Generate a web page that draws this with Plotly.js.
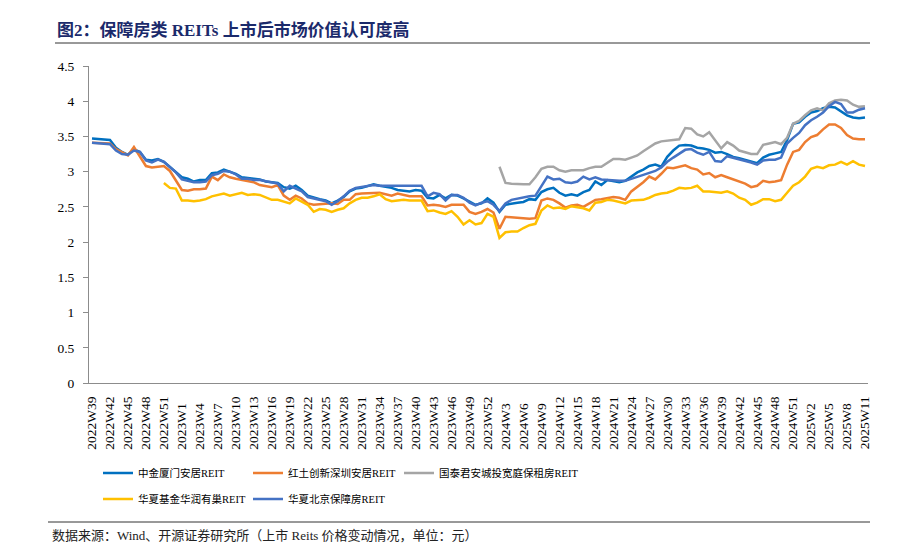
<!DOCTYPE html>
<html>
<head>
<meta charset="utf-8">
<script src="https://cdn.plot.ly/plotly-3.0.1.min.js"></script>
<style>html,body{margin:0;padding:0;background:#fff;}#chart{width:900px;height:555px;}</style>
</head>
<body>
<div id="chart"></div>
<script>
// Weekly categories (x axis)
const weeks = [
"2022W39","2022W40","2022W41","2022W42","2022W43","2022W44","2022W45","2022W46","2022W47","2022W48","2022W49","2022W50","2022W51","2022W52","2022W53",
"2023W1","2023W2","2023W3","2023W4","2023W5","2023W6","2023W7","2023W8","2023W9","2023W10","2023W11","2023W12","2023W13","2023W14","2023W15","2023W16","2023W17","2023W18","2023W19","2023W20","2023W21","2023W22","2023W23","2023W24","2023W25","2023W26","2023W27","2023W28","2023W29","2023W30","2023W31","2023W32","2023W33","2023W34","2023W35","2023W36","2023W37","2023W38","2023W39","2023W40","2023W41","2023W42","2023W43","2023W44","2023W45","2023W46","2023W47","2023W48","2023W49","2023W50","2023W51","2023W52",
"2024W1","2024W2","2024W3","2024W4","2024W5","2024W6","2024W7","2024W8","2024W9","2024W10","2024W11","2024W12","2024W13","2024W14","2024W15","2024W16","2024W17","2024W18","2024W19","2024W20","2024W21","2024W22","2024W23","2024W24","2024W25","2024W26","2024W27","2024W28","2024W29","2024W30","2024W31","2024W32","2024W33","2024W34","2024W35","2024W36","2024W37","2024W38","2024W39","2024W40","2024W41","2024W42","2024W43","2024W44","2024W45","2024W46","2024W47","2024W48","2024W49","2024W50","2024W51","2024W52",
"2025W1","2025W2","2025W3","2025W4","2025W5","2025W6","2025W7","2025W8","2025W9","2025W10","2025W11"
];

// Tick labels shown on the x axis
const tickLabels = [
"2022W39","2022W42","2022W45","2022W48","2022W51",
"2023W1","2023W4","2023W7","2023W10","2023W13","2023W16","2023W19","2023W22","2023W25","2023W28","2023W31","2023W34","2023W37","2023W40","2023W43","2023W46","2023W49","2023W52",
"2024W3","2024W6","2024W9","2024W12","2024W15","2024W18","2024W21","2024W24","2024W27","2024W30","2024W33","2024W36","2024W39","2024W42","2024W45","2024W48","2024W51",
"2025W2","2025W5","2025W8","2025W11"
];

const seriesNames = ["中金厦门安居REIT","红土创新深圳安居REIT","国泰君安城投宽庭保租房REIT","华夏基金华润有巢REIT","华夏北京保障房REIT"];

// 中金厦门安居REIT
const zjXiamen = [
3.47,3.46,3.46,3.45,3.34,3.28,3.24,3.32,3.28,3.17,
3.16,3.18,3.14,3.07,3.00,2.92,2.90,2.86,2.88,2.88,
2.98,2.99,3.03,3.00,2.97,2.92,2.91,2.89,2.89,2.86,
2.85,2.84,2.78,2.76,2.80,2.74,2.66,2.63,2.61,2.59,
2.55,2.59,2.64,2.72,2.76,2.77,2.80,2.82,2.80,2.79,
2.77,2.74,2.73,2.72,2.74,2.73,2.63,2.62,2.67,2.62,
2.67,2.66,2.62,2.57,2.53,2.55,2.62,2.56,2.43,2.53,
2.55,2.56,2.57,2.61,2.60,2.71,2.75,2.77,2.70,2.66,
2.68,2.66,2.71,2.74,2.86,2.81,2.88,2.87,2.85,2.87,
2.93,2.99,3.03,3.08,3.10,3.07,3.21,3.30,3.37,3.38,
3.37,3.34,3.33,3.31,3.27,3.28,3.25,3.21,3.19,3.17,
3.15,3.12,3.20,3.24,3.26,3.28,3.45,3.68,3.70,3.78,
3.84,3.86,3.90,3.92,3.91,3.85,3.80,3.77,3.76,3.77
];

// 红土创新深圳安居REIT
const htShenzhen = [
3.41,3.41,3.40,3.40,3.32,3.27,3.23,3.35,3.21,3.08,
3.06,3.07,3.08,3.01,2.88,2.74,2.73,2.75,2.75,2.76,
2.93,2.88,2.96,2.92,2.90,2.88,2.87,2.85,2.81,2.80,
2.78,2.81,2.66,2.60,2.66,2.62,2.55,2.53,2.54,2.54,
2.55,2.54,2.60,2.60,2.68,2.69,2.69,2.70,2.70,2.68,
2.66,2.69,2.67,2.65,2.65,2.65,2.52,2.53,2.52,2.50,
2.53,2.53,2.53,2.43,2.40,2.43,2.47,2.42,2.19,2.36,
2.35,2.34,2.33,2.33,2.34,2.59,2.62,2.60,2.55,2.49,
2.52,2.53,2.50,2.55,2.60,2.61,2.63,2.64,2.63,2.60,
2.72,2.78,2.85,2.93,2.89,2.97,3.06,3.05,3.07,3.09,
3.05,3.03,2.96,2.98,2.92,2.95,2.92,2.89,2.86,2.83,
2.78,2.80,2.87,2.85,2.86,2.88,3.10,3.28,3.31,3.42,
3.49,3.52,3.60,3.67,3.67,3.62,3.52,3.47,3.46,3.46
];

// 国泰君安城投宽庭保租房REIT
const gtjaKuanting = [
null,null,null,null,null,null,null,null,null,null,
null,null,null,null,null,null,null,null,null,null,
null,null,null,null,null,null,null,null,null,null,
null,null,null,null,null,null,null,null,null,null,
null,null,null,null,null,null,null,null,null,null,
null,null,null,null,null,null,null,null,null,null,
null,null,null,null,null,null,null,null,3.07,2.84,
2.83,2.82,2.82,2.82,2.92,3.04,3.07,3.07,3.02,3.00,
3.02,3.02,3.02,3.05,3.07,3.07,3.13,3.18,3.18,3.17,
3.20,3.23,3.29,3.34,3.40,3.43,3.44,3.45,3.46,3.62,
3.61,3.53,3.50,3.56,3.45,3.33,3.42,3.37,3.30,3.27,
3.25,3.25,3.38,3.40,3.42,3.39,3.48,3.68,3.72,3.80,
3.87,3.90,3.87,3.97,4.01,4.02,4.01,3.95,3.92,3.93
];

// 华夏基金华润有巢REIT
const hxYouchao = [
null,null,null,null,null,null,null,null,null,null,
null,null,2.84,2.77,2.76,2.59,2.59,2.58,2.59,2.61,
2.65,2.67,2.69,2.66,2.68,2.70,2.67,2.68,2.67,2.63,
2.60,2.60,2.57,2.55,2.62,2.58,2.53,2.43,2.47,2.46,
2.43,2.46,2.48,2.55,2.60,2.63,2.63,2.65,2.68,2.61,
2.58,2.59,2.60,2.59,2.59,2.59,2.44,2.45,2.42,2.40,
2.44,2.36,2.25,2.31,2.25,2.27,2.40,2.36,2.06,2.14,
2.15,2.15,2.20,2.24,2.26,2.45,2.52,2.48,2.49,2.47,
2.51,2.50,2.48,2.45,2.56,2.57,2.60,2.59,2.57,2.55,
2.59,2.59,2.60,2.63,2.67,2.69,2.70,2.73,2.77,2.76,
2.77,2.80,2.72,2.72,2.71,2.70,2.72,2.69,2.63,2.60,
2.53,2.56,2.61,2.61,2.58,2.60,2.70,2.80,2.85,2.93,
3.04,3.07,3.05,3.09,3.10,3.14,3.10,3.15,3.10,3.08
];

// 华夏北京保障房REIT
const hxBeijing = [
3.41,3.40,3.39,3.39,3.30,3.25,3.24,3.30,3.28,3.16,
3.13,3.17,3.14,3.06,2.99,2.89,2.87,2.85,2.85,2.86,
2.95,2.97,3.01,3.00,2.96,2.90,2.90,2.88,2.88,2.86,
2.84,2.83,2.72,2.80,2.76,2.72,2.64,2.62,2.60,2.58,
2.53,2.58,2.65,2.73,2.77,2.78,2.80,2.81,2.80,2.80,
2.80,2.80,2.79,2.80,2.80,2.80,2.65,2.70,2.68,2.59,
2.67,2.67,2.63,2.56,2.52,2.56,2.58,2.53,2.44,2.55,
2.60,2.62,2.64,2.65,2.66,2.80,2.93,2.89,2.90,2.85,
2.84,2.86,2.93,2.89,2.92,2.89,2.88,2.87,2.87,2.87,
2.90,2.93,2.95,2.98,3.01,3.06,3.14,3.20,3.26,3.31,
3.32,3.27,3.24,3.28,3.15,3.14,3.22,3.20,3.18,3.15,
3.13,3.10,3.16,3.17,3.17,3.20,3.40,3.48,3.55,3.66,
3.73,3.78,3.84,3.93,3.99,3.96,3.84,3.84,3.88,3.90
];

const seriesValues = [zjXiamen, htShenzhen, gtjaKuanting, hxYouchao, hxBeijing];
const seriesColors = ["#0070C0","#ED7D31","#A5A5A5","#FFC000","#4472C4"];
const seriesLegend = ["legend","legend2","legend3","legend4","legend5"];

const serif = "'Liberation Serif','Times New Roman','Noto Sans CJK SC',serif";

const traces = seriesValues.map((vals, i) => ({
  type: "scatter",
  mode: "lines",
  x: weeks,
  y: vals,
  name: seriesNames[i],
  legend: seriesLegend[i],
  line: {color: seriesColors[i], width: 2.5},
  connectgaps: false,
  hoverinfo: "x+y+name"
}));

// pixel -> paper helpers (plot area: x 89..868, y 66..383)
const L = 89, R = 868, T = 66, B = 383;
const px = v => (v - L) / (R - L);
const py = v => (B - v) / (B - T);

const tickText = tickLabels.map(s => s.length < 7 ? s + "\u2002" : s);

// legend slots: [left pixel, centre-y pixel]
const legendSlots = [[98, 473], [248, 473], [399, 473], [98, 499], [248, 499]];
const legendStyle = (slot) => ({
  orientation: "v",
  x: px(slot[0]), xanchor: "left",
  y: py(slot[1]), yanchor: "middle",
  itemwidth: 30,
  font: {family: serif, size: 10.5, color: "#000"},
  bgcolor: "rgba(0,0,0,0)",
  borderwidth: 0
});

const layout = {
  width: 900,
  height: 555,
  margin: {l: L, r: 900 - R, t: T, b: 555 - B, pad: 0},
  paper_bgcolor: "#ffffff",
  plot_bgcolor: "#ffffff",
  showlegend: true,
  title: {
    text: "<b>图2：保障房类 REITs 上市后市场价值认可度高</b>",
    font: {family: serif, size: 17, color: "#1B2A6B"},
    xref: "container", yref: "container",
    x: 57 / 900, xanchor: "left",
    y: 1 - 30.5 / 555, yanchor: "middle"
  },
  xaxis: {
    type: "category",
    categoryorder: "array",
    categoryarray: weeks,
    range: [-0.5, weeks.length - 0.5],
    tickmode: "array",
    tickvals: tickLabels,
    ticktext: tickText,
    tickangle: -90,
    ticks: "",
    showline: true,
    linecolor: "#8c8c8c",
    linewidth: 1,
    showgrid: false,
    zeroline: false,
    ticklabelstandoff: 7,
    tickfont: {family: serif, size: 13.5, color: "#000"},
    fixedrange: true
  },
  yaxis: {
    range: [0, 4.5],
    tick0: 0,
    dtick: 0.5,
    ticks: "outside",
    ticklen: 5,
    tickcolor: "#8c8c8c",
    showline: true,
    linecolor: "#8c8c8c",
    linewidth: 1,
    showgrid: false,
    zeroline: false,
    ticklabelstandoff: 6,
    tickfont: {family: serif, size: 13.5, color: "#000"},
    fixedrange: true
  },
  legend: legendStyle(legendSlots[0]),
  legend2: legendStyle(legendSlots[1]),
  legend3: legendStyle(legendSlots[2]),
  legend4: legendStyle(legendSlots[3]),
  legend5: legendStyle(legendSlots[4]),
  shapes: [
    {type: "line", xref: "paper", yref: "paper", x0: px(55), x1: px(870), y0: py(43), y1: py(43), line: {color: "#333333", width: 1}},
    {type: "line", xref: "paper", yref: "paper", x0: px(48), x1: px(870), y0: py(522), y1: py(522), line: {color: "#333333", width: 1}}
  ],
  annotations: [
    {
      text: "数据来源：Wind、开源证券研究所（上市 Reits 价格变动情况，单位：元）",
      xref: "paper", yref: "paper",
      x: px(50), xanchor: "left",
      y: py(535), yanchor: "middle",
      showarrow: false,
      font: {family: serif, size: 13, color: "#222"}
    }
  ]
};

Plotly.newPlot("chart", traces, layout, {displayModeBar: false, staticPlot: true});
</script>
</body>
</html>
